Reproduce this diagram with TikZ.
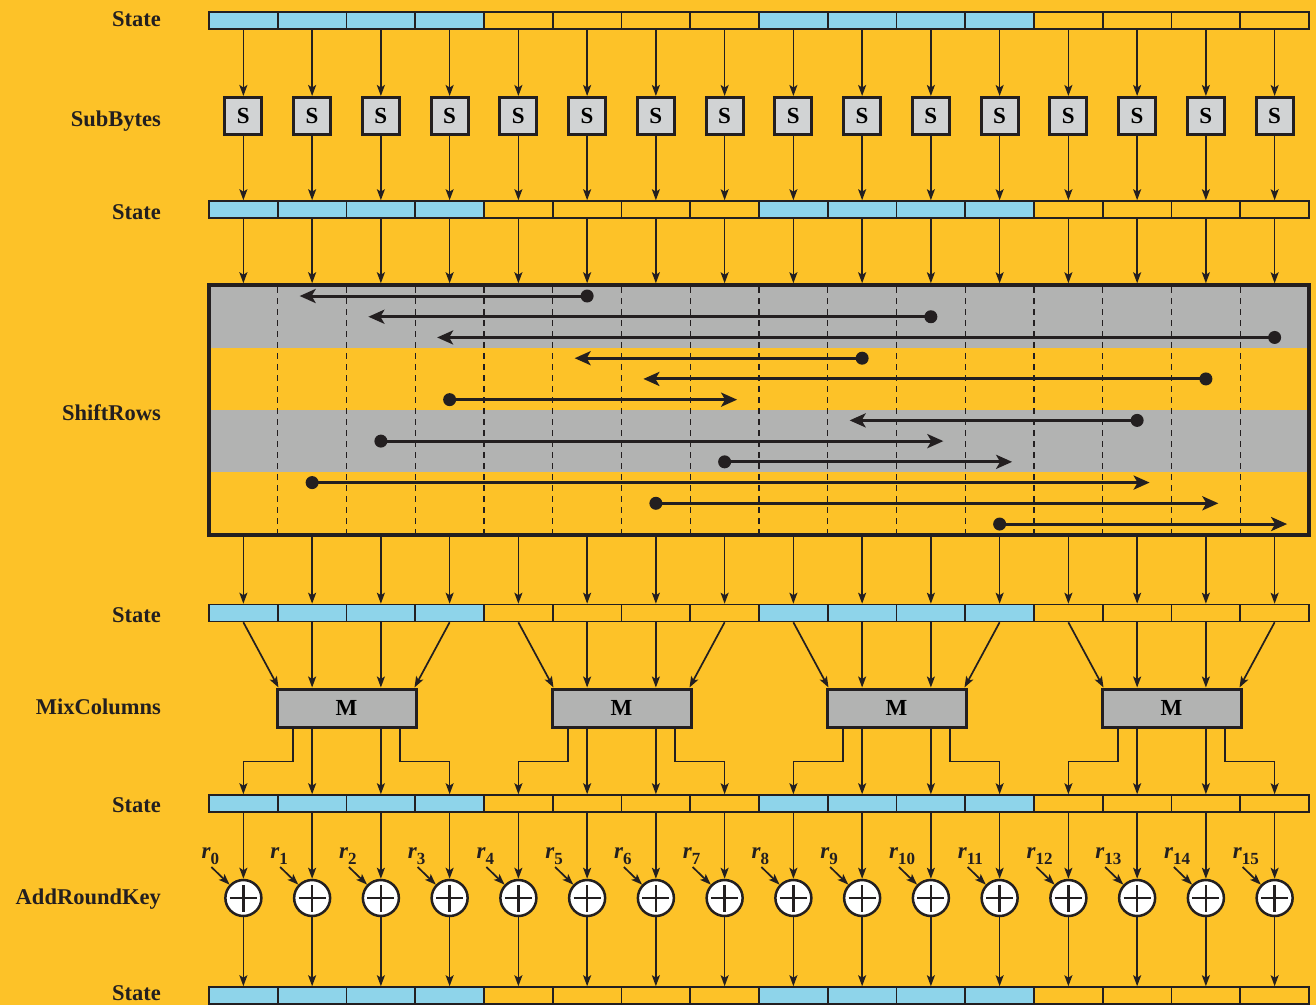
\documentclass[tikz,border=0pt]{standalone}
\usepackage{fontspec}
\setmainfont{Liberation Serif}
\usepackage{xcolor}
\usepackage{tikz}
\usetikzlibrary{arrows.meta, positioning, calc}
\definecolor{AESGold}{RGB}{253, 194, 40}
\definecolor{AESBlue}{RGB}{142, 212, 234}
\definecolor{AESGray}{RGB}{178, 179, 178}
\definecolor{AESLight}{RGB}{209, 211, 212}
\definecolor{AESInk}{RGB}{35, 31, 32}

\tikzset{
  rowlabel/.style={anchor=base east, inner sep=0pt, text=AESInk,
    font=\fontsize{22.5}{24}\selectfont\bfseries},
  cell/.style={draw=AESInk, line width=1.6pt, minimum width=68.75pt,
    minimum height=17pt, inner sep=0pt},
  sbox/.style={draw=AESInk, fill=AESLight, line width=3pt, minimum size=37pt,
    inner sep=0pt, font=\fontsize{23}{23}\selectfont\bfseries},
  mbox/.style={draw=AESInk, fill=AESGray, line width=3pt, minimum width=139pt,
    minimum height=38pt, inner sep=0pt, font=\fontsize{23}{23}\selectfont\bfseries},
  xorbox/.style={circle, draw=AESInk, fill=white, line width=2.5pt,
    minimum size=36pt, inner sep=0pt,
    path picture={\draw[AESInk, line width=2.6pt]
      ([xshift=-13.5pt]path picture bounding box.center) -- ([xshift=13.5pt]path picture bounding box.center)
      ([yshift=-13.5pt]path picture bounding box.center) -- ([yshift=13.5pt]path picture bounding box.center);}},
  flow/.style={draw=AESInk, line width=1.7pt, -{Stealth[length=11pt, width=8pt, inset=2.5pt]}},
  shiftarrow/.style={draw=AESInk, line width=3pt, -{Stealth[length=16pt, width=14pt, inset=4pt]}},
  divider/.style={draw=AESInk, line width=1.4pt, dash pattern=on 6pt off 5pt},
  keylbl/.style={anchor=base west, inner sep=0pt, text=AESInk,
    font=\fontsize{23}{24}\selectfont\bfseries\itshape}
}

\begin{document}
\begin{tikzpicture}[x=1pt, y=-1pt]
  \useasboundingbox (0,0) rectangle (1316,1005);
  \fill[AESGold] (0,0) rectangle (1316,1005);

  % row labels
  \node[rowlabel] (lblState0) at (161,26) {State};
  \node[rowlabel] (lblSub) at (161,126) {SubBytes};
  \node[rowlabel] (lblState1) at (161,219) {State};
  \node[rowlabel] (lblShift) at (161,420) {ShiftRows};
  \node[rowlabel] (lblState2) at (161,622) {State};
  \node[rowlabel] (lblMix) at (161,714) {MixColumns};
  \node[rowlabel] (lblState3) at (161,812) {State};
  \node[rowlabel] (lblKey) at (161,904) {AddRoundKey};
  \node[rowlabel] (lblState4) at (161,1000) {State};

  % state rows
  \foreach \r/\y in {0/20.75, 1/209.5, 2/613, 3/803.5, 4/995.5}{
    \foreach \i in {0,...,15}{
      \pgfmathtruncatemacro\grp{mod(\i,8)<4}
      \ifnum\grp=1 \def\cellcol{AESBlue}\else\def\cellcol{AESGold}\fi
      \node[cell, fill=\cellcol] (st\r c\i) at ({209+68.75*(\i+0.5)},\y) {};
    }
  }

  % SubBytes
  \foreach \i in {0,...,15}{
    \node[sbox] (sb\i) at ({243.375+68.75*\i},116) {S};
    \draw[flow] (st0c\i) -- (sb\i);
    \draw[flow] (sb\i) -- (st1c\i);
  }

  % ShiftRows
  \fill[AESGray] (209,285) rectangle (1309,348);
  \fill[AESGray] (209,410) rectangle (1309,472);
  \foreach \k in {1,...,15}
    \draw[divider] ({209+68.75*\k},287) -- ({209+68.75*\k},534);
  \foreach \k/\a/\b in {0/5/1, 1/10/2, 2/15/3, 3/9/5, 4/14/6, 5/3/7,
                        6/13/9, 7/2/10, 8/7/11, 9/1/13, 10/6/14, 11/11/15}{
    \pgfmathsetmacro\dx{\b>\a ? 12.5 : -12.5}
    \coordinate (src\k) at ({243.375+68.75*\a},{296+20.73*\k});
    \coordinate (dst\k) at ({243.375+68.75*\b+\dx},{296+20.73*\k});
    \draw[shiftarrow] (src\k) -- (dst\k);
    \fill[AESInk] (src\k) circle (6.5pt);
  }
  \node[draw=AESInk, line width=3.5pt, minimum width=1100pt, minimum height=250pt,
    inner sep=0pt] (shiftframe) at (759,410) {};
  \foreach \i in {0,...,15}{
    \draw[flow] (st1c\i) -- (st1c\i |- shiftframe.north);
    \draw[flow] (shiftframe.south -| st2c\i) -- (st2c\i);
  }

  % MixColumns
  \foreach \j in {0,...,3}{
    \node[mbox] (mx\j) at ({346.5+275*\j},708) {M};
    \pgfmathtruncatemacro\ca{4*\j}
    \pgfmathtruncatemacro\cb{4*\j+1}
    \pgfmathtruncatemacro\cc{4*\j+2}
    \pgfmathtruncatemacro\cd{4*\j+3}
    \draw[flow] (st2c\ca.south) -- ([xshift=3pt]mx\j.north west);
    \draw[flow] (st2c\cb) -- (mx\j.north -| st2c\cb);
    \draw[flow] (st2c\cc) -- (mx\j.north -| st2c\cc);
    \draw[flow] (st2c\cd.south) -- ([xshift=-3pt]mx\j.north east);
    \draw[flow] ([xshift=-53.5pt]mx\j.south) -- ++(0,33) -| (st3c\ca);
    \draw[flow] (mx\j.south -| st3c\cb) -- (st3c\cb);
    \draw[flow] (mx\j.south -| st3c\cc) -- (st3c\cc);
    \draw[flow] ([xshift=53.5pt]mx\j.south) -- ++(0,33) -| (st3c\cd);
  }

  % AddRoundKey
  \foreach \i in {0,...,15}{
    \node[xorbox] (xr\i) at ({243.375+68.75*\i},898) {};
    \coordinate (key\i) at ({243.375+68.75*\i-32},867);
    \node[keylbl] (rl\i) at ({243.375+68.75*\i-42},858)
      {r\raisebox{-6pt}{\fontsize{17}{17}\selectfont\upshape\bfseries\i}};
    \draw[flow] (st3c\i) -- (xr\i);
    \draw[flow] (xr\i) -- (st4c\i);
    \draw[flow] (key\i) -- (xr\i);
  }
\end{tikzpicture}
\end{document}
